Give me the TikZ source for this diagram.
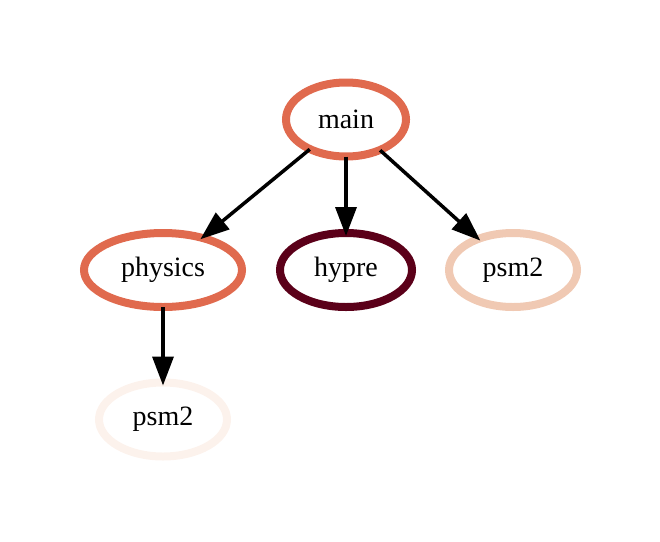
\documentclass[tikz,border=0pt]{standalone}
\usepackage{fontspec}
\setmainfont{Liberation Serif}
\usetikzlibrary{shapes.geometric,arrows.meta}
\definecolor{cmain}{HTML}{E06A4E}
\definecolor{chypre}{HTML}{5B0019}
\definecolor{cpsmA}{HTML}{F0C9B3}
\definecolor{cpsmB}{HTML}{FCF2EC}
\tikzset{
  gnode/.style={ellipse, draw, line width=8pt, minimum height=74pt, inner sep=0pt,
    font=\fontsize{28}{32}\selectfont},
  gedge/.style={line width=3.5pt, shorten <=-4pt, shorten >=-7pt, -{Triangle[length=29pt,width=21pt]}}
}
\begin{document}
\begin{tikzpicture}[x=1pt,y=-1pt]
\useasboundingbox (0,0) rectangle (660,541);
\node[gnode, draw=cmain, minimum width=120pt] (main) at (346,119.5) {main};
\node[gnode, draw=cmain, minimum width=158pt] (physics) at (163,270) {physics};
\node[gnode, draw=chypre, minimum width=132pt] (hypre) at (346,270) {hypre};
\node[gnode, draw=cpsmA, minimum width=128pt] (psmA) at (513,270) {psm2};
\node[gnode, draw=cpsmB, minimum width=128pt] (psmB) at (163,419.5) {psm2};
\draw[gedge] (main) -- (physics);
\draw[gedge] (main) -- (hypre);
\draw[gedge] (main) -- (psmA);
\draw[gedge] (physics) -- (psmB);
\end{tikzpicture}
\end{document}
